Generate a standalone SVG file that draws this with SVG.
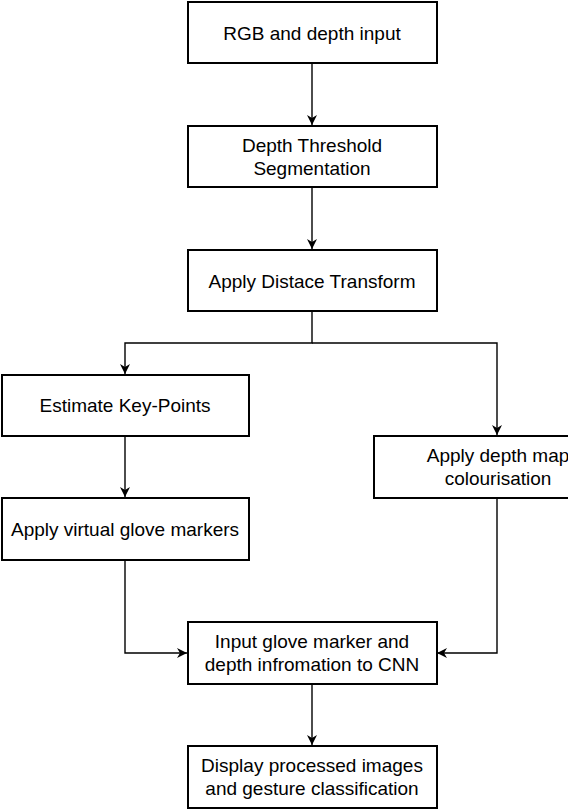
<svg xmlns="http://www.w3.org/2000/svg" width="568" height="810" viewBox="0 0 568 810">
<style>
.box{fill:#fff;stroke:#000;stroke-width:2}
.lbl{font-family:"Liberation Sans",Arial,sans-serif;font-size:19px;fill:#000;text-anchor:middle}
.conn{fill:none;stroke:#000;stroke-width:1.4}
</style>
<defs>
<marker id="arr" viewBox="0 0 10 10" refX="10" refY="5" markerWidth="10" markerHeight="10" markerUnits="userSpaceOnUse" orient="auto">
<path d="M0,0 L10,5 L0,10 L3,5 Z" fill="#000"/>
</marker>
</defs>
<rect width="568" height="810" fill="#fff"/>
<g id="connectors">
<path class="conn" d="M312,63 V125" marker-end="url(#arr)"/>
<path class="conn" d="M312,187 V249" marker-end="url(#arr)"/>
<path class="conn" d="M312,311 V343 H125 V374" marker-end="url(#arr)"/>
<path class="conn" d="M312,343 H497 V435" marker-end="url(#arr)"/>
<path class="conn" d="M125,436 V497" marker-end="url(#arr)"/>
<path class="conn" d="M125,560 V653 H187" marker-end="url(#arr)"/>
<path class="conn" d="M497,498 V653 H437" marker-end="url(#arr)"/>
<path class="conn" d="M312,684 V745" marker-end="url(#arr)"/>
</g>
<g id="n1"><rect class="box" x="188" y="2" width="249" height="61"/><text class="lbl" x="312" y="39.5">RGB and depth input</text></g>
<g id="n2"><rect class="box" x="188" y="126" width="249" height="61"/><text class="lbl" x="312" y="151.5">Depth Threshold</text><text class="lbl" x="312" y="174.5">Segmentation</text></g>
<g id="n3"><rect class="box" x="188" y="250" width="249" height="61"/><text class="lbl" x="312" y="287.5">Apply Distace Transform</text></g>
<g id="n4"><rect class="box" x="2" y="375" width="247" height="61"/><text class="lbl" x="125" y="412">Estimate Key-Points</text></g>
<g id="n5"><rect class="box" x="374" y="436" width="249" height="62"/><text class="lbl" x="498" y="462">Apply depth map</text><text class="lbl" x="498" y="484.5">colourisation</text></g>
<g id="n6"><rect class="box" x="2" y="498" width="247" height="62"/><text class="lbl" x="125" y="535.5">Apply virtual glove markers</text></g>
<g id="n7"><rect class="box" x="188" y="622" width="249" height="62"/><text class="lbl" x="312" y="648">Input glove marker and</text><text class="lbl" x="312" y="671">depth infromation to CNN</text></g>
<g id="n8"><rect class="box" x="188" y="746" width="249" height="62"/><text class="lbl" x="312" y="771.5">Display processed images</text><text class="lbl" x="312" y="794.5">and gesture classification</text></g>
</svg>
